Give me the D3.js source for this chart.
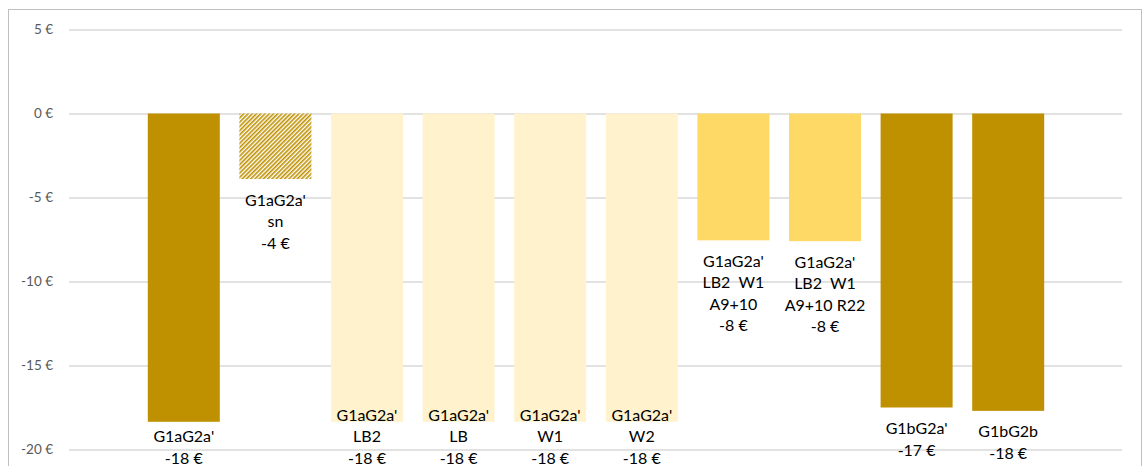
<!DOCTYPE html>
<html>
<head>
<meta charset="utf-8">
<script src="https://cdn.jsdelivr.net/npm/d3@7"></script>
<style>
  body { margin: 0; background: #fff; }
  text { font-family: Lato, "Noto Sans", sans-serif; }
</style>
</head>
<body>
<div id="chart"></div>
<script>
// bar labels (one entry per line) and values in euros
const labels = [
  ["G1aG2a'", "-18 €"],
  ["G1aG2a'", "sn", "-4 €"],
  ["G1aG2a'", "LB2", "-18 €"],
  ["G1aG2a'", "LB", "-18 €"],
  ["G1aG2a'", "W1", "-18 €"],
  ["G1aG2a'", "W2", "-18 €"],
  ["G1aG2a'", "LB2  W1", "A9+10", "-8 €"],
  ["G1aG2a'", "LB2  W1", "A9+10 R22", "-8 €"],
  ["G1bG2a'", "-17 €"],
  ["G1bG2b", "-18 €"]
]
const values = [-18.35, -3.9, -18.35, -18.35, -18.35, -18.35, -7.55, -7.6, -17.5, -17.7]
const groups = ['base', 'sn', 'single', 'single', 'single', 'single', 'combo', 'combo', 'base', 'base']
const yTicks = [5, 0, -5, -10, -15, -20]

const W = 1143, H = 466

const svg = d3.select('#chart')
    .append('svg')
    .attr('width', W)
    .attr('height', H)

// hatch for the "sn" bar
const defs = svg.append('defs')
const pat = defs.append('pattern')
    .attr('id', 'hatch')
    .attr('patternUnits', 'userSpaceOnUse')
    .attr('width', 3)
    .attr('height', 3)
    .attr('patternTransform', 'rotate(45)')
pat.append('rect').attr('width', 3).attr('height', 3).attr('fill', '#fff')
pat.append('rect').attr('width', 1.6).attr('height', 3).attr('fill', '#bf9000')

// outer frame
svg.append('rect')
    .attr('x', 8.5)
    .attr('y', 9.5)
    .attr('width', 1133)
    .attr('height', 480)
    .attr('fill', 'none')
    .attr('stroke', '#bfbfbf')

// Scales
const x = d3.scaleBand()
    .domain(d3.range(values.length))
    .range([138, 1054])
    .paddingInner(0.214)
    .paddingOuter(0.107)

const y = d3.scaleLinear()
    .domain([-20, 5])
    .range([449.5, 29.5])

const fill = d3.scaleOrdinal()
    .domain(['base', 'sn', 'single', 'combo'])
    .range(['#bf9000', 'url(#hatch)', '#fff2cc', '#ffd966'])

// Gridlines + tick labels
const gridLeft = 69, gridRight = 1122
const yAxis = d3.axisLeft(y)
    .tickValues(yTicks)
    .tickSizeInner(-(gridRight - gridLeft))
    .tickSizeOuter(0)
    .tickPadding(16)
    .tickFormat(d => d + ' €')

const ax = svg.append('g')
    .attr('transform', `translate(${gridLeft}, 0)`)
    .call(yAxis)
ax.select('.domain').remove()
ax.selectAll('.tick line').attr('stroke', '#d9d9d9').attr('stroke-width', 1.3)
ax.selectAll('.tick text')
    .attr('fill', '#595959')
    .attr('font-size', '13.5px')

// Bars
svg.append('g')
    .selectAll('rect')
    .data(values)
    .enter()
    .append('rect')
    .attr('x', (d, i) => x(i))
    .attr('width', x.bandwidth())
    .attr('y', d => y(Math.max(0, d)))
    .attr('height', d => Math.abs(y(d) - y(0)))
    .attr('fill', (d, i) => fill(groups[i]))

// Data labels below bar ends, kept inside the chart
const lineH = 21.5
const lastMax = 458
const lab = svg.append('g')
    .selectAll('text')
    .data(labels)
    .enter()
    .append('text')
    .attr('text-anchor', 'middle')
    .attr('font-size', '16px')
    .attr('fill', '#000')
    .style('white-space', 'pre')

lab.each(function(lines, i) {
    let first = y(values[i]) + 21
    const last = first + (lines.length - 1) * lineH
    if (last > lastMax) first -= last - lastMax
    const cx = x(i) + x.bandwidth() / 2
    d3.select(this).selectAll('tspan')
        .data(lines)
        .enter()
        .append('tspan')
        .attr('x', cx)
        .attr('y', (l, k) => first + k * lineH)
        .attr('dy', '0.35em')
        .text(l => l)
})
</script>
</body>
</html>
